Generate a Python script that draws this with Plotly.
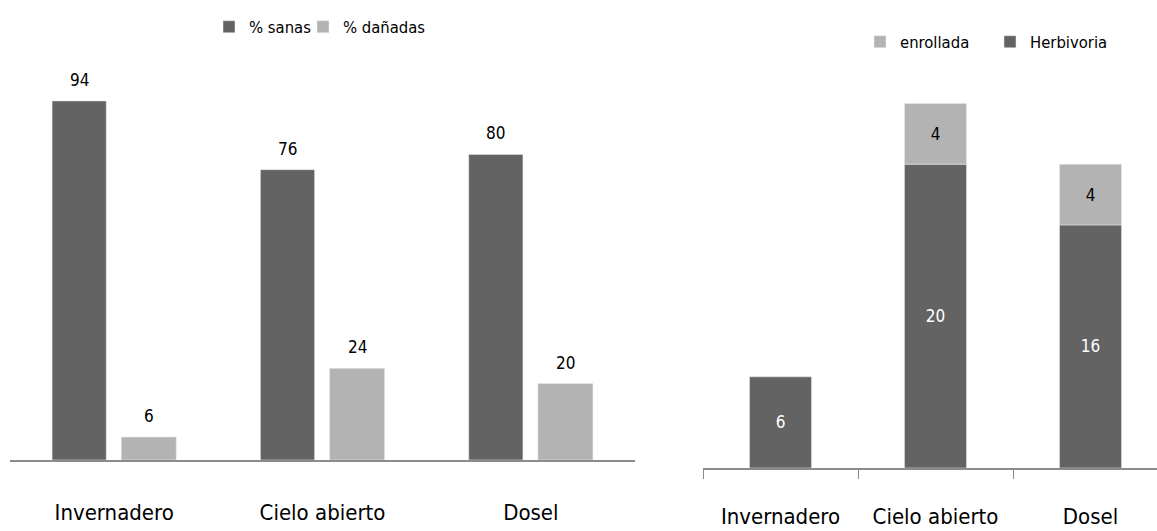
import plotly.graph_objects as go

# Categories shared by both panels
sitios = ["Invernadero", "Cielo abierto", "Dosel"]

# Left panel: percentage of healthy vs damaged leaves
sanas = [94, 76, 80]
danadas = [6, 24, 20]

# Right panel: type of damage (stacked)
herbivoria = [6, 20, 16]
enrollada = [None, 4, 4]

OSCURO = "#636363"
CLARO = "#b3b3b3"
FUENTE = "Liberation Sans Narrow, DejaVu Sans Condensed, sans-serif"

idx = list(range(len(sitios)))

W, H = 1157, 531


def fx(px):
    return px / W


def fy(py):
    return 1 - py / H


fig = go.Figure()

# ---- left panel: grouped bars (value labels added as annotations) ----
grupo_izq = [
    ("% sanas", sanas, OSCURO, -0.298, 0.26, "legend2"),
    ("% dañadas", danadas, CLARO, 0.034, 0.264, "legend3"),
]
for nombre, valores, color, desp, ancho, ley in grupo_izq:
    fig.add_trace(go.Bar(
        x=idx, y=valores, name=nombre, marker_color=color,
        width=ancho, offset=desp, xaxis="x", yaxis="y", legend=ley,
    ))
    for i, v in zip(idx, valores):
        fig.add_annotation(
            x=i + desp + ancho / 2, y=v, xref="x", yref="y", text=str(v),
            showarrow=False, yanchor="bottom", yshift=9,
            font=dict(size=17, color="black"),
        )

# ---- right panel: stacked bars ----
fig.add_trace(go.Bar(
    x=idx, y=herbivoria, name="Herbivoria", marker_color=OSCURO,
    width=0.4, offset=-0.2, xaxis="x2", yaxis="y2",
    text=herbivoria, textposition="inside", insidetextanchor="middle",
    textfont=dict(color="white", size=17), legend="legend5",
))
fig.add_trace(go.Bar(
    x=idx, y=enrollada, base=herbivoria, name="enrollada", marker_color=CLARO,
    width=0.4, offset=-0.2, xaxis="x2", yaxis="y2",
    text=enrollada, textposition="inside", insidetextanchor="middle",
    textfont=dict(color="black", size=17), legend="legend4",
))

eje_x = dict(
    tickmode="array", tickvals=idx, ticktext=sitios, ticks="",
    showline=True, linecolor="#8c8c8c", linewidth=2, showgrid=False,
    zeroline=False, tickfont=dict(size=22, color="black"),
    automargin=False, fixedrange=True,
)


def leyenda(x_px, y_px):
    return dict(orientation="h", x=fx(x_px), xanchor="left", y=fy(y_px),
                yanchor="middle", font=dict(size=16.5), itemclick=False,
                bgcolor="rgba(0,0,0,0)")


fig.update_layout(
    width=W, height=H, margin=dict(l=0, r=0, t=0, b=0, autoexpand=False),
    paper_bgcolor="white", plot_bgcolor="white",
    font=dict(family=FUENTE, color="black"),
    barmode="overlay", showlegend=True,
    xaxis=dict(eje_x, domain=[fx(10), fx(635)], range=[-0.5, 2.5], anchor="y",
               ticklabelstandoff=32),
    yaxis=dict(domain=[fy(460), fy(78)], range=[0, 100], visible=False,
               fixedrange=True),
    xaxis2=dict(eje_x, domain=[fx(703), 1.0], range=[-0.5, 2.5 - 11 / 155],
                anchor="y2", ticklabelstandoff=28,
                minor=dict(tickmode="array", tickvals=[-0.5, 0.5, 1.5, 2.5],
                           ticks="outside", ticklen=9, tickcolor="#8c8c8c",
                           tickwidth=1)),
    yaxis2=dict(domain=[fy(468), fy(73)], range=[0, 26], visible=False,
                anchor="x2", fixedrange=True),
    legend2=leyenda(209, 27),
    legend3=leyenda(303, 27),
    legend4=leyenda(860, 42),
    legend5=leyenda(990, 42),
)

fig.write_html("out.html")
